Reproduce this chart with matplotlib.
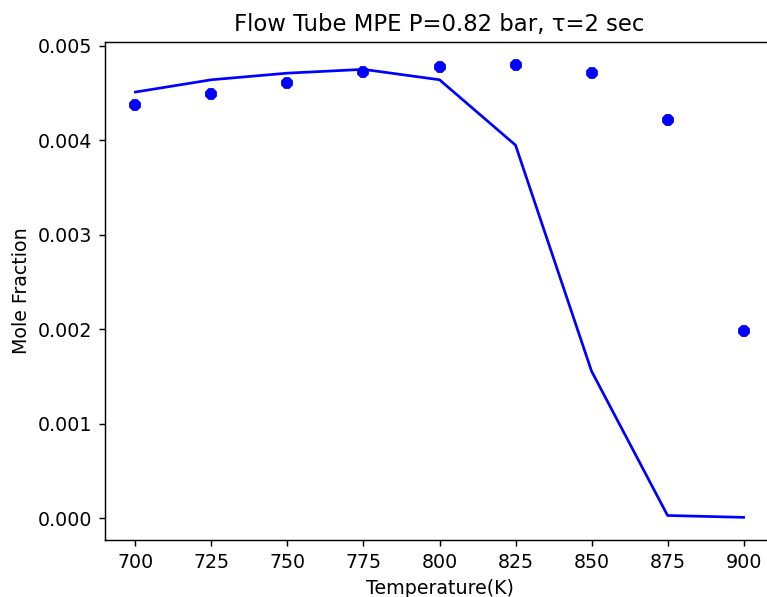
import numpy as np
import matplotlib.pyplot as plt

# temperatures (K)
temps = [700, 725, 750, 775, 800, 825, 850, 875, 900]
# experimental mole fractions (points)
exp_x = [0.004375, 0.00449, 0.00461, 0.00472, 0.00477, 0.00480, 0.00471, 0.00421, 0.00198]
# model mole fractions (line)
model_x = [0.00451, 0.00464, 0.00471, 0.00475, 0.00464, 0.003948, 0.001557, 0.00003, 0.00001]

plt.rcParams['font.size'] = 10.5

dpi = 130
fig = plt.figure(figsize=(767 / dpi, 597 / dpi), dpi=dpi)
ax = fig.add_axes([105 / 767, 57 / 597, 669 / 767, 498 / 597])

ax.plot(temps, model_x, color='blue')
ax.plot(temps, exp_x, '8', color='blue', markersize=5.5)
ax.set_title("Flow Tube MPE P=0.82 bar, τ=2 sec")
ax.set_xlabel("Temperature(K)")
ax.set_ylabel("Mole Fraction")
ax.set_xticks(temps)

fig.savefig("out.png", dpi=dpi)
